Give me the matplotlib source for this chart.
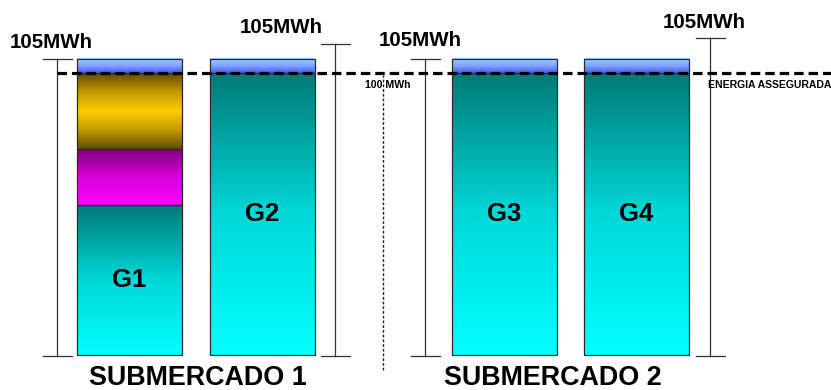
import numpy as np
import matplotlib
matplotlib.use("Agg")
import matplotlib.pyplot as plt
from matplotlib.colors import LinearSegmentedColormap
from matplotlib.patches import Rectangle

plt.rcParams['font.family'] = ['Liberation Sans', 'DejaVu Sans']
plt.rcParams['lines.scale_dashes'] = False

# ---- data (MWh) ----
generators = ['G1', 'G2', 'G3', 'G4']
submarkets = ['SUBMERCADO 1', 'SUBMERCADO 2']
# stacked energy blocks per generator, bottom to top
teal_mwh = [53.2, 100.0, 100.0, 100.0]
magenta_mwh = [19.9, 0.0, 0.0, 0.0]
gold_mwh = [26.9, 0.0, 0.0, 0.0]
surplus_mwh = [5.0, 5.0, 5.0, 5.0]
assured_energy = 100
capacity_label = '105MWh'
assured_label = 'ENERGIA ASSEGURADA'
assured_value_label = '100 MWh'
# span drawn by the dimension brackets beside each generator
bracket_top = [105.0, 110.3, 105.0, 112.6]
bracket_bottom = [-0.4, -0.4, -0.4, -0.4]

# ---- layout (x in pixels, y in MWh) ----
bar_x = [129.5, 262.0, 504.5, 636.5]
bar_w = 105
bracket_x = [57, 335, 425, 710]
cap_half = 14.5
cap_label_pos = [(51, 111.0), (281, 116.0), (420, 111.4), (704, 118.1)]
gen_label_y_frac = 0.5
sub_x = [197.5, 553]
divider_x = 383

fig = plt.figure(figsize=(8.31, 3.90), dpi=100)
ax = fig.add_axes([0, 0, 1, 1])
ax.set_xlim(0, 831)
ax.set_ylim(-12.42, 125.93)
ax.axis('off')

def cmap(colors):
    return LinearSegmentedColormap.from_list('g', colors)

cm_teal = cmap(['#00ffff', '#00d8d8', '#007a76'])
cm_mag = cmap(['#ff00ff', '#d800d8', '#7a0078'])
cm_gold = cmap(['#5e4b00', '#c49a00', '#ffcc00', '#c49a00', '#5e4b00'])
cm_blue = cmap(['#4a58ff', '#7fa6ff', '#a9d0ff'])
grad = np.linspace(0, 1, 256).reshape(-1, 1)

def segment(xc, y0, h, cm):
    if h <= 0:
        return
    x0, x1 = xc - bar_w / 2, xc + bar_w / 2
    ax.imshow(grad, cmap=cm, origin='lower', aspect='auto',
              extent=(x0, x1, y0, y0 + h), zorder=2, interpolation='bilinear')
    ax.add_patch(Rectangle((x0, y0), bar_w, h, fill=False,
                           edgecolor='#2a2a2a', lw=0.9, zorder=3))

for i, g in enumerate(generators):
    xc = bar_x[i]
    y = 0.0
    for h, cm in ((teal_mwh[i], cm_teal), (magenta_mwh[i], cm_mag),
                  (gold_mwh[i], cm_gold), (surplus_mwh[i], cm_blue)):
        segment(xc, y, h, cm)
        y += h
    ax.text(xc, teal_mwh[i] * gen_label_y_frac, g, ha='center', va='center',
            fontsize=18.5, fontweight='bold', color='black', zorder=4)

    # dimension bracket
    bx = bracket_x[i]
    ax.plot([bx, bx], [bracket_bottom[i], bracket_top[i]], color='#333333', lw=0.9, zorder=3)
    for yy in (bracket_bottom[i], bracket_top[i]):
        ax.plot([bx - cap_half, bx + cap_half], [yy, yy], color='#333333', lw=0.9, zorder=3)
    lx, ly = cap_label_pos[i]
    ax.text(lx, ly, capacity_label, ha='center', va='center',
            fontsize=14.8, fontweight='bold', color='black')

# assured energy line
ax.plot([57, 831], [assured_energy, assured_energy], color='black', lw=2.3,
        dashes=(6.8, 3.6), zorder=5, solid_capstyle='butt', dash_capstyle='butt')
ax.text(708, assured_energy - 4.2, assured_label, ha='left', va='center',
        fontsize=7.5, fontweight='bold', color='black')
ax.text(365, assured_energy - 4.2, assured_value_label, ha='left', va='center',
        fontsize=7.6, fontweight='bold', color='black')

# divider between submarkets
ax.plot([divider_x, divider_x], [-5.3, 99.3], color='#222222', lw=1.0,
        dashes=(2.0, 1.4), zorder=3)

for x, s in zip(sub_x, submarkets):
    ax.text(x, -8.1, s, ha='center', va='center', fontsize=19.4,
            fontweight='bold', color='black')

fig.savefig('out.png', dpi=100)
